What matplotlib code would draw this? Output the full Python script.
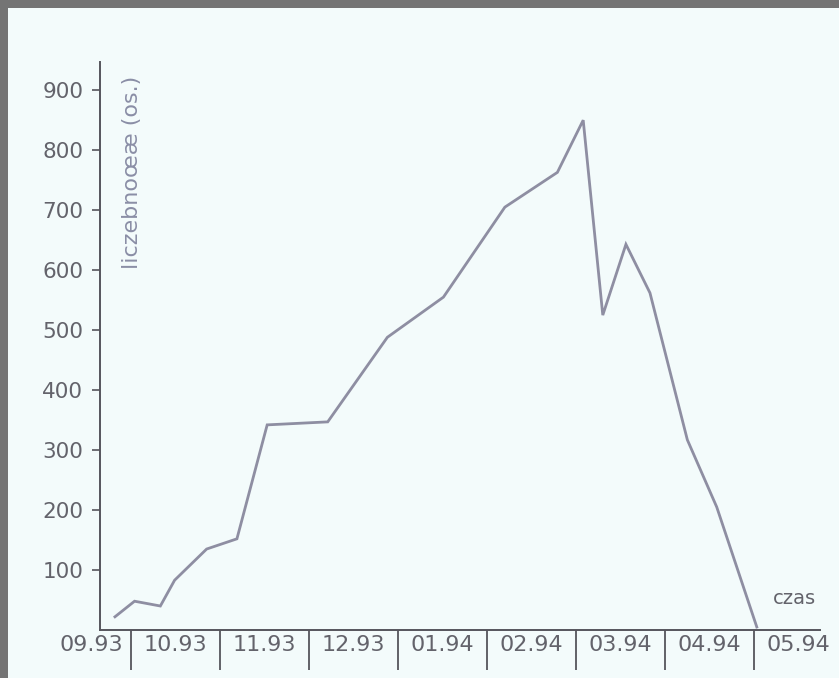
import matplotlib
matplotlib.use("Agg")
import matplotlib.pyplot as plt
from matplotlib.patches import Rectangle

# month intervals on the time axis (09.93 ... 05.94)
months = ["09.93", "10.93", "11.93", "12.93", "01.94", "02.94", "03.94", "04.94", "05.94"]

# sample positions in month units (0 = start of 09.93) and abundance values
t = [0.82, 1.04, 1.33, 1.49, 1.85, 2.19, 2.53, 3.21, 3.88, 4.51, 5.20,
     5.79, 6.08, 6.30, 6.56, 6.83, 7.25, 7.58, 8.03]
count = [22, 48, 40, 83, 135, 152, 342, 347, 488, 555, 705,
         763, 850, 525, 643, 562, 317, 205, 5]

yticks = [100, 200, 300, 400, 500, 600, 700, 800, 900]

txt_col = "#63636b"
line_col = "#8e8ea2"
axis_col = "#55555c"
bg = "#f3fbfb"

fig = plt.figure(figsize=(8.39, 6.78), dpi=100)
fig.patch.set_facecolor("#747474")
fig.patches.append(Rectangle((8 / 839, 0), 1, 670 / 678, transform=fig.transFigure,
                             facecolor=bg, edgecolor="none", zorder=-10))

ax = fig.add_axes([100 / 839, 48 / 678, 720 / 839, 568 / 678])
ax.set_facecolor("none")

ax.plot(t, count, color=line_col, lw=2.0, solid_joinstyle="miter")

ax.set_xlim(0.652, 8.74)
ax.set_ylim(0, 947)

for s in ["top", "right"]:
    ax.spines[s].set_visible(False)
for s in ["left", "bottom"]:
    ax.spines[s].set_color(axis_col)
    ax.spines[s].set_linewidth(1.4)

ax.set_yticks(yticks)
ax.set_yticklabels([str(v) for v in yticks])
ax.tick_params(axis="y", direction="out", length=6, width=1.2, color=axis_col,
               labelsize=15.5, labelcolor=txt_col, pad=6)

# month separators hang below the axis
ax.set_xticks(range(1, 9))
ax.set_xticklabels([])
ax.tick_params(axis="x", direction="out", length=29, width=1.3, color=axis_col)

for i, m in enumerate(months):
    ax.text(i + 0.5 + (0.06 if i == 0 else 0), -0.026, m, transform=ax.get_xaxis_transform(),
            ha="center", va="center", fontsize=16, color=txt_col, clip_on=False)

ax.text(0.044, 0.805, "liczebnoœæ (os.)", transform=ax.transAxes, rotation=90,
        ha="center", va="center", fontsize=16, color="#8a8ea6")
ax.text(0.965, 0.055, "czas", transform=ax.transAxes, ha="center", va="center",
        fontsize=14, color=txt_col)

plt.savefig("out.png", dpi=100, facecolor=fig.get_facecolor())
